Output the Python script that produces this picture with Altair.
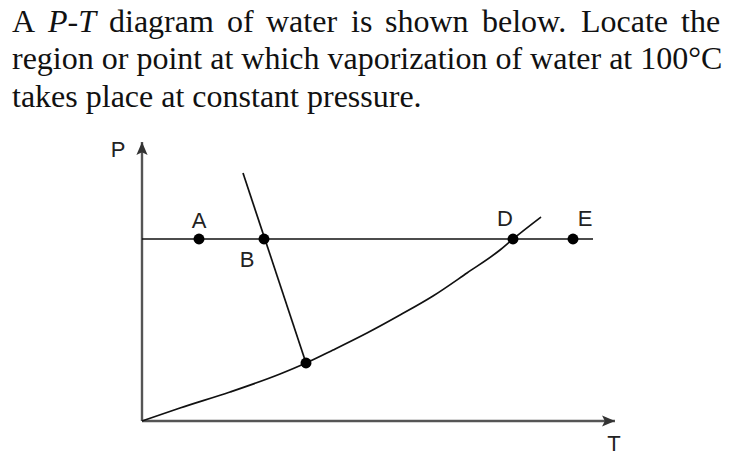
import altair as alt
import pandas as pd

# ---- data (diagram units: T to the right, P upward) ----
curve_T = [0, 38, 88, 138, 164, 191, 225, 258, 291, 325, 358, 371, 399]
curve_P = [0, 13, 29, 47, 58, 71, 88, 106, 125, 148, 171, 182, 204]
fusion_T = [101, 164]
fusion_P = [248, 58]
isobar_T = [0, 451]
isobar_P = [182, 182]
point_names = ["A", "B", "D", "E", "triple"]
point_T = [57, 122, 371, 431, 164]
point_P = [182, 182, 182, 182, 58]
axis_T_end = 473
axis_P_end = 279

line1_words = ["A", "P-T", "diagram", "of", "water", "is", "shown", "below.", "Locate", "the"]
line2_text = "region or point at which vaporization of water at 100°C"
line3_text = "takes place at constant pressure."

# ---- layout ----
PLOT_LEFT, PLOT_TOP = 142, 131          # page pixels of plot-area corner
W, H = 480, 290
line1_x = [12, 48, 109, 227, 266, 351, 385, 482, 581, 681]   # justified word starts
serif = "Liberation Serif"
sans = "Liberation Sans"
ink = "#111111"

xs = alt.Scale(domain=[0, W], nice=False, zero=False)
ys = alt.Scale(domain=[0, H], nice=False, zero=False)

def X(f):
    return alt.X(f, type="quantitative", scale=xs, axis=None)

def Y(f):
    return alt.Y(f, type="quantitative", scale=ys, axis=None)

lines_df = pd.concat([
    pd.DataFrame({"T": curve_T, "P": curve_P, "s": "vapor", "i": range(len(curve_T))}),
    pd.DataFrame({"T": fusion_T, "P": fusion_P, "s": "fusion", "i": range(len(fusion_T))}),
    pd.DataFrame({"T": isobar_T, "P": isobar_P, "s": "isobar", "i": range(len(isobar_T))}),
])
pts_df = pd.DataFrame({"name": point_names, "T": point_T, "P": point_P})
axes_df = pd.DataFrame({"T0": [0, 0], "T1": [axis_T_end, 0], "P0": [0, 0], "P1": [0, axis_P_end]})

layers = []

# axes
layers.append(alt.Chart(axes_df).mark_rule(color="#555555", strokeWidth=2.4).encode(
    x=X("T0"), x2="T1", y=Y("P0"), y2="P1"))

arrow = "M0,-1L0.8,0.85L0,0.45L-0.8,0.85Z"
layers.append(alt.Chart(pd.DataFrame({"T": [0], "P": [axis_P_end]})).mark_point(
    shape=arrow, filled=True, size=196, color="#333333", opacity=1, yOffset=7
).encode(x=X("T"), y=Y("P")))
layers.append(alt.Chart(pd.DataFrame({"T": [axis_T_end], "P": [0]})).mark_point(
    shape=arrow, filled=True, size=196, color="#333333", opacity=1, angle=90, xOffset=-7
).encode(x=X("T"), y=Y("P")))

# curves
layers.append(alt.Chart(lines_df).mark_line(color=ink, strokeWidth=1.7, interpolate="monotone").encode(
    x=X("T"), y=Y("P"), detail="s:N", order="i:Q"))

# points
layers.append(alt.Chart(pts_df).mark_circle(size=120, color="#000000", opacity=1).encode(
    x=X("T"), y=Y("P")))

# point labels
offsets = {"A": (0, -11), "B": (-17, 28), "D": (-8, -13), "E": (12, -13)}
for name, (dx, dy) in offsets.items():
    layers.append(alt.Chart(pts_df).transform_filter(alt.datum.name == name).mark_text(
        font=sans, fontSize=22, color="#222222", align="center", baseline="alphabetic", dx=dx, dy=dy
    ).encode(x=X("T"), y=Y("P"), text="name:N"))

# axis names
layers.append(alt.Chart(pd.DataFrame({"T": [0], "P": [axis_P_end], "t": ["P"]})).mark_text(
    font=sans, fontSize=22, color="#222222", align="center", baseline="alphabetic", dx=-24, dy=15
).encode(x=X("T"), y=Y("P"), text="t:N"))
layers.append(alt.Chart(pd.DataFrame({"T": [axis_T_end], "P": [0], "t": ["T"]})).mark_text(
    font=sans, fontSize=22, color="#222222", align="center", baseline="alphabetic", dx=-1, dy=30
).encode(x=X("T"), y=Y("P"), text="t:N"))

# question text
for w, px in zip(line1_words, line1_x):
    layers.append(alt.Chart(pd.DataFrame({"t": [w]})).mark_text(
        font=serif, fontSize=32, color=ink, align="left", baseline="alphabetic",
        fontStyle="italic" if w == "P-T" else "normal"
    ).encode(x=alt.value(px - PLOT_LEFT), y=alt.value(32 - PLOT_TOP), text="t:N"))
for txt, py in [(line2_text, 69), (line3_text, 107)]:
    layers.append(alt.Chart(pd.DataFrame({"t": [txt]})).mark_text(
        font=serif, fontSize=32, color=ink, align="left", baseline="alphabetic"
    ).encode(x=alt.value(12 - PLOT_LEFT), y=alt.value(py - PLOT_TOP), text="t:N"))

chart = alt.layer(*layers).properties(
    width=W, height=H,
    padding={"left": PLOT_LEFT - 8, "top": PLOT_TOP - 8,
             "right": 721 - (PLOT_LEFT - 8) - W, "bottom": 450 - (PLOT_TOP - 8) - H},
    autosize=alt.AutoSizeParams(type="none"),
    background="white",
).configure_view(stroke=None)

chart.save("out.html", embed_options={"renderer": "svg", "actions": False})
